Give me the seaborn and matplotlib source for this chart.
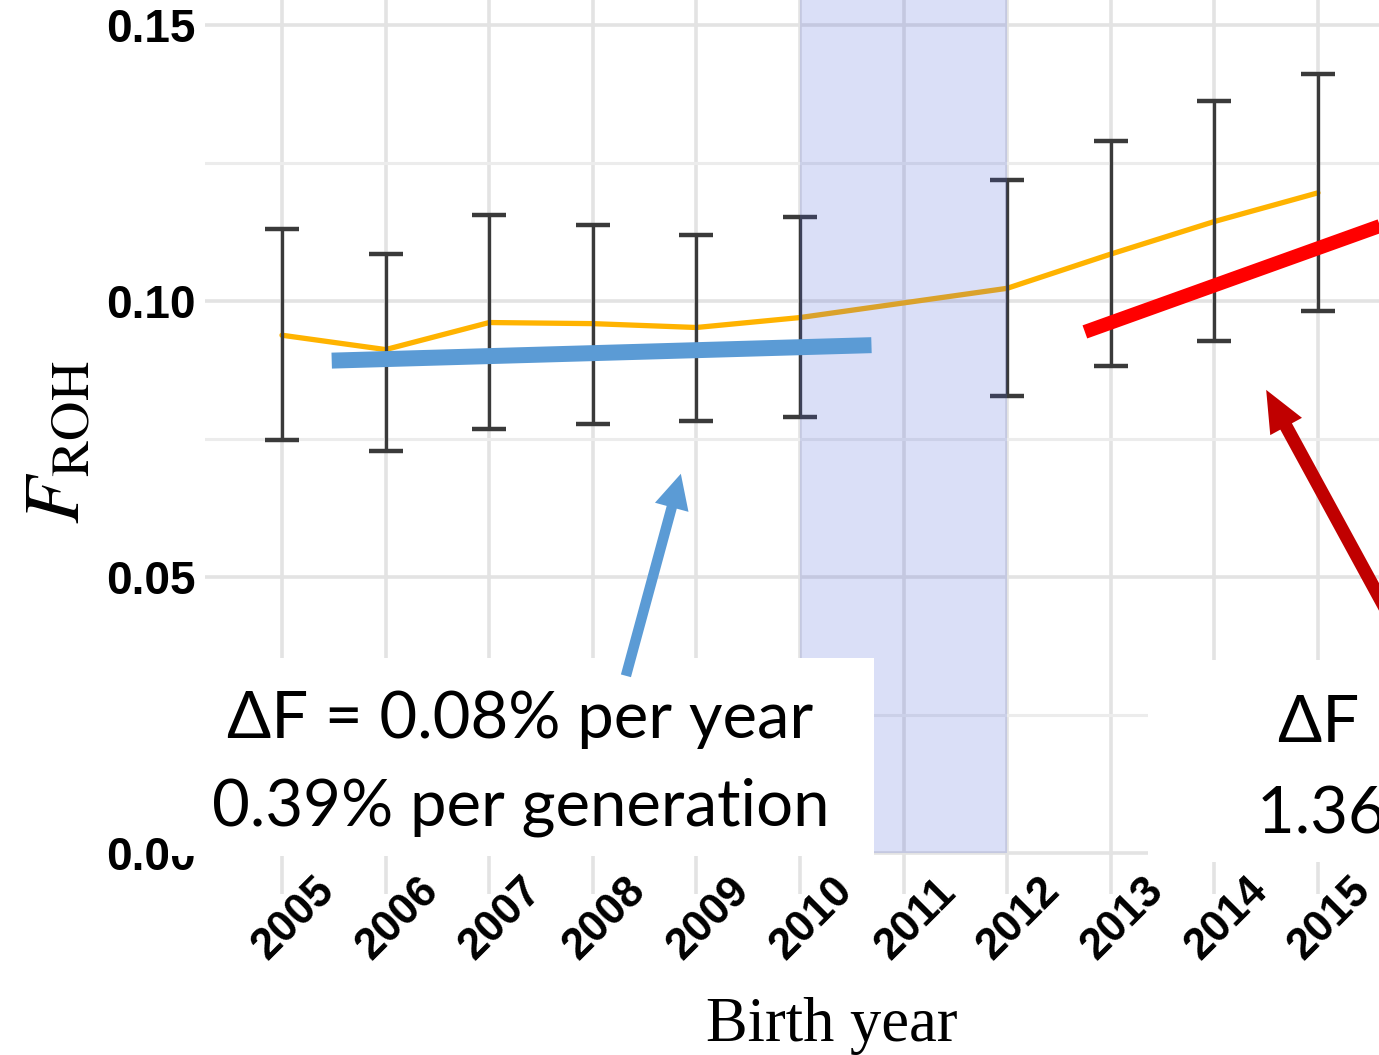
import matplotlib
matplotlib.use("Agg")
import numpy as np
import pandas as pd
import matplotlib.pyplot as plt
import seaborn as sns
from matplotlib.patches import Rectangle
from matplotlib.transforms import ScaledTranslation

# F_ROH by birth year (no cohort plotted for 2011)
years = [2005, 2006, 2007, 2008, 2009, 2010, 2012, 2013, 2014, 2015]
froh_mean = [0.0938, 0.0912, 0.0961, 0.0959, 0.0952, 0.0970, 0.1023, 0.1085, 0.1144, 0.1196]
froh_lower = [0.0749, 0.0728, 0.0769, 0.0777, 0.0783, 0.0790, 0.0828, 0.0882, 0.0928, 0.0982]
froh_upper = [0.1130, 0.1085, 0.1156, 0.1138, 0.1119, 0.1152, 0.1219, 0.1290, 0.1362, 0.1411]

# hand drawn trend lines
early_x = [2005.48, 2010.69]
early_y = [0.0892, 0.0920]
late_x = [2012.75, 2016.0]
late_y = [0.0944, 0.1163]

shade_years = [2010, 2012]
tick_years = list(range(2005, 2016))
y_ticks = [0.0, 0.05, 0.10, 0.15]
y_minor = [0.025, 0.075, 0.125]

early_text = ["ΔF = 0.08% per year", "0.39% per generation"]
late_text = ["ΔF = 0.28% per year", "1.36% per generation"]

df = pd.DataFrame({"year": years, "froh": froh_mean, "lo": froh_lower, "hi": froh_upper})

sns.set_theme(style="white")
plt.rcParams["mathtext.fontset"] = "stix"
plt.rcParams["font.family"] = ["Liberation Sans", "DejaVu Sans"]
plt.rcParams["text.color"] = "black"
plt.rcParams["xtick.color"] = "black"
plt.rcParams["ytick.color"] = "black"

W, H = 1379, 1055
fig = plt.figure(figsize=(W / 100, H / 100), dpi=100)
ax = fig.add_axes([205 / W, (H - 894.4) / H, (W - 205) / W, 910.8 / H])

ax.set_xlim(2004.257, 2015.589)
ax.set_ylim(-0.0075, 0.1575)
ax.set_xticks(tick_years)
ax.set_yticks(y_ticks)
ax.set_yticks(y_minor, minor=True)
ax.set_yticklabels([f"{v:.2f}" for v in y_ticks])
ax.grid(which="major", axis="both", color="#e3e3e3", lw=2.6, zorder=0)
ax.grid(which="minor", axis="y", color="#ececec", lw=2.2, zorder=0)
ax.set_axisbelow(True)
for s in ax.spines.values():
    s.set_visible(False)
ax.tick_params(axis="both", which="both", length=0)
ax.tick_params(axis="y", pad=7)
ax.tick_params(axis="x", pad=0)

for lab in ax.get_yticklabels():
    lab.set_fontsize(33)
    lab.set_fontweight("bold")
    lab.set_color("black")
for lab in ax.get_xticklabels():
    lab.set_fontsize(31.5)
    lab.set_fontweight("bold")
    lab.set_color("black")
    lab.set_rotation(45)
    lab.set_rotation_mode("anchor")
    lab.set_ha("center")
    lab.set_va("center")
    lab.set_transform(lab.get_transform() + ScaledTranslation(0.12, -0.245, fig.dpi_scale_trans))

# mean line and error bars
sns.lineplot(data=df, x="year", y="froh", ax=ax, color="#ffb300", linewidth=3.8, zorder=3)
ax.errorbar(df["year"], df["froh"], yerr=[df["froh"] - df["lo"], df["hi"] - df["froh"]],
            fmt="none", ecolor="#3a3a3a", elinewidth=2.4, capsize=12, capthick=3.2, zorder=3)

# shaded period
ax.fill_between(shade_years, 0, 0.1575, color="#4a60d8", alpha=0.2, lw=0, zorder=4)

# trend lines
ax.plot(early_x, early_y, color="#5b9bd5", lw=11.5, solid_capstyle="butt", zorder=5)
ax.plot(late_x, late_y, color="#ff0000", lw=10, solid_capstyle="butt", zorder=5)

# white text boxes
ax.add_patch(Rectangle((2003.90, -0.00054), 2010.71 - 2003.90, 0.03587,
                       facecolor="white", edgecolor="none", zorder=6, clip_on=False))
ax.add_patch(Rectangle((2013.36, -0.00163), 3.5, 0.03659,
                       facecolor="white", edgecolor="none", zorder=6, clip_on=False))

txt_font = ["Lato", "Open Sans", "DejaVu Sans"]
ax.text(2007.30, 0.02083, early_text[0], ha="center", va="baseline", fontsize=47,
        family=txt_font, color="black", zorder=7, clip_on=False)
ax.text(2007.30, 0.00507, early_text[1], ha="center", va="baseline", fontsize=47,
        family=txt_font, color="black", zorder=7, clip_on=False)
ax.text(2014.61, 0.02011, late_text[0], ha="left", va="baseline", fontsize=47,
        family=txt_font, color="black", zorder=7, clip_on=False)
ax.text(2014.41, 0.00380, late_text[1], ha="left", va="baseline", fontsize=47,
        family=txt_font, color="black", zorder=7, clip_on=False)

# arrows
ax.annotate("", xy=(2008.85, 0.0687), xytext=(2008.32, 0.0321),
            arrowprops=dict(arrowstyle="simple,head_length=2.5,head_width=2.5,tail_width=0.75",
                            color="#5b9bd5", shrinkA=0, shrinkB=0, mutation_scale=10, lw=0),
            zorder=8, annotation_clip=False)
ax.annotate("", xy=(2014.50, 0.0839), xytext=(2015.92, 0.0350),
            arrowprops=dict(arrowstyle="simple,head_length=3.0,head_width=2.6,tail_width=0.95",
                            color="#c00000", shrinkA=0, shrinkB=0, mutation_scale=10, lw=0),
            zorder=8, annotation_clip=False)

ax.set_xlabel("")
ax.set_ylabel("")
fig.text(58 / W, 1 - 442 / H, r"$F_{\mathrm{ROH}}$", rotation=90, fontsize=56,
         ha="center", va="center")
fig.text(832 / W, 1 - 1026 / H, "Birth year", family="Liberation Serif", fontsize=45,
         ha="center", va="center")

fig.savefig("out.png", dpi=100)
